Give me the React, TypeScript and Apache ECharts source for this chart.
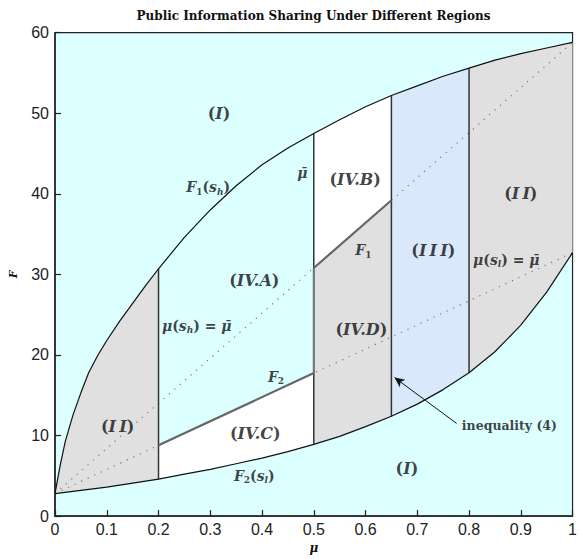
import React, { useEffect, useRef } from "react";
import * as echarts from "echarts";

// F1(s_h) upper boundary curve
const upperCurve: [number, number][] = [
  [0, 2.8], [0.01, 6.3], [0.02, 9.3], [0.035, 12.6], [0.05, 15.3], [0.065, 17.8],
  [0.083, 20], [0.1, 21.8], [0.125, 24.2], [0.15, 26.4], [0.175, 28.6], [0.2, 30.7],
  [0.25, 34.6], [0.3, 38.0], [0.35, 41.0], [0.4, 43.6], [0.45, 45.7], [0.5, 47.5],
  [0.55, 49.2], [0.6, 50.8], [0.65, 52.2], [0.7, 53.4], [0.75, 54.6], [0.8, 55.6],
  [0.85, 56.6], [0.9, 57.4], [0.95, 58.1], [1, 58.8],
];
// F2(s_l) lower boundary curve
const lowerCurve: [number, number][] = [
  [0, 2.8], [0.05, 3.2], [0.1, 3.6], [0.15, 4.1], [0.2, 4.6], [0.25, 5.2],
  [0.3, 5.8], [0.35, 6.5], [0.4, 7.2], [0.45, 8.0], [0.5, 8.9], [0.55, 9.9],
  [0.6, 11.1], [0.65, 12.4], [0.7, 13.9], [0.75, 15.7], [0.8, 17.8], [0.85, 20.4],
  [0.9, 23.7], [0.95, 27.8], [1, 32.7],
];
// dotted chords
const upperChord: [number, number][] = [[0, 2.8], [1, 58.8]];
const lowerChord: [number, number][] = [[0, 2.8], [1, 32.7]];
// F1 and F2 thick segments
const f1Segment: [number, number][] = [[0.5, 30.8], [0.65, 39.2]];
const f2Segment: [number, number][] = [[0.2, 8.8], [0.5, 17.75]];
// vertical boundaries
const boundaries = [0.2, 0.5, 0.65, 0.8];
// arrow for "inequality (4)"
const arrowFrom: [number, number] = [0.776, 11.5];
const arrowTo: [number, number] = [0.656, 17.2];

// label positions [mu, F]
const labelPos: [number, number][] = [
  [0.317, 50], [0.68, 5.9], [0.121, 11.1], [0.9, 40], [0.731, 33],
  [0.385, 29.3], [0.58, 41.8], [0.387, 10.2], [0.592, 23.2],
  [0.296, 40.8], [0.478, 42.6], [0.274, 23.6], [0.427, 17.3], [0.596, 33],
  [0.872, 31.8], [0.385, 5.0], [0.878, 11.2],
];
const labelText: string[] = [
  "{p|(}{r|I}{p|)}",
  "{p|(}{r|I}{p|)}",
  "{p|(}{r|I\u2009I}{p|)}",
  "{p|(}{r|I\u2009I}{p|)}",
  "{p|(}{r|I\u2009I\u2009I}{p|)}",
  "{p|(}{r|IV.A}{p|)}",
  "{p|(}{r|IV.B}{p|)}",
  "{p|(}{r|IV.C}{p|)}",
  "{p|(}{r|IV.D}{p|)}",
  "{m|F}{sub|1}{q|(}{m|s}{subi|h}{q|)}",
  "{m|\u03BC\u0304}",
  "{m|\u03BC}{q|(}{m|s}{subi|h}{q|) = }{m|\u03BC\u0304}",
  "{m|F}{sub|2}",
  "{m|F}{sub|1}",
  "{m|\u03BC}{q|(}{m|s}{subi|l}{q|) = }{m|\u03BC\u0304}",
  "{m|F}{sub|2}{q|(}{m|s}{subi|l}{q|)}",
  "{t|inequality (4)}",
];

const at = (curve: [number, number][], x: number) =>
  (curve.find((p) => Math.abs(p[0] - x) < 1e-9) as [number, number])[1];
const slice = (curve: [number, number][], a: number, b: number) =>
  curve.filter((p) => p[0] >= a - 1e-9 && p[0] <= b + 1e-9);

const CYAN = "#dcffff";
const GRAY = "#e0e0e0";
const BLUE = "#d9e9fb";
const WHITE = "#ffffff";

const regions: { pts: [number, number][]; fill: string }[] = [
  { pts: [...slice(upperCurve, 0, 0.2), ...slice(lowerCurve, 0, 0.2).reverse()], fill: GRAY },
  { pts: [...f2Segment, ...slice(lowerCurve, 0.2, 0.5).reverse()], fill: WHITE },
  { pts: [...f1Segment, ...slice(upperCurve, 0.5, 0.65).reverse()], fill: WHITE },
  { pts: [...slice(lowerCurve, 0.5, 0.65), ...f1Segment.slice().reverse()], fill: GRAY },
  { pts: [...slice(upperCurve, 0.65, 0.8), ...slice(lowerCurve, 0.65, 0.8).reverse()], fill: BLUE },
  { pts: [...slice(upperCurve, 0.8, 1), ...slice(lowerCurve, 0.8, 1).reverse()], fill: GRAY },
];

const mathFont = "DejaVu Serif";

export default function App() {
  const ref = useRef<HTMLDivElement>(null);
  useEffect(() => {
    if (!ref.current) return;
    const chart = echarts.init(ref.current, undefined, { renderer: "svg" });
    const baseText = { fontFamily: mathFont, fontWeight: "bold" as const, color: "#111" };
    const rich = {
      r: { ...baseText, fontStyle: "italic" as const, fontSize: 16, lineHeight: 20 },
      p: { ...baseText, fontStyle: "normal" as const, fontSize: 16, lineHeight: 20 },
      m: { ...baseText, fontStyle: "italic" as const, fontSize: 14, lineHeight: 18 },
      q: { ...baseText, fontStyle: "normal" as const, fontSize: 14, lineHeight: 18 },
      sub: { ...baseText, fontStyle: "normal" as const, fontSize: 9, lineHeight: 10, verticalAlign: "bottom" as const },
      subi: { ...baseText, fontStyle: "italic" as const, fontSize: 9, lineHeight: 10, verticalAlign: "bottom" as const },
      t: { ...baseText, fontStyle: "normal" as const, fontSize: 12.5, lineHeight: 16 },
    };
    const vertLines = boundaries.map((x) => ({
      type: "line",
      data: [[x, at(lowerCurve, x)], [x, at(upperCurve, x)]],
      symbol: "none",
      lineStyle: { color: "#333", width: 1.5 },
      z: 4,
      silent: true,
    }));
    chart.setOption({
      animation: false,
      grid: {
        left: 51.5, right: 2.5, top: 32.7, bottom: 35,
        show: true, backgroundColor: CYAN, borderColor: "#222", borderWidth: 1.2,
      },
      graphic: [
        {
          type: "text", x: 313.5, y: 16,
          style: {
            text: "Public Information Sharing Under Different Regions",
            fontFamily: "DejaVu Serif", fontWeight: "bold", fontSize: 12,
            fill: "#111", textAlign: "center", textVerticalAlign: "middle",
          },
        },
      ],
      xAxis: {
        type: "value", min: 0, max: 1, interval: 0.1,
        name: "\u03BC", nameLocation: "middle", nameGap: 23,
        nameTextStyle: { fontFamily: mathFont, fontStyle: "italic", fontWeight: "bold", fontSize: 12, color: "#111" },
        axisLine: { lineStyle: { color: "#222", width: 1.5 } },
        axisTick: { inside: true, length: 6, lineStyle: { color: "#222", width: 1.2 } },
        axisLabel: { fontFamily: "Liberation Sans", fontSize: 16, color: "#222", margin: 5 },
        splitLine: { show: false },
      },
      yAxis: {
        type: "value", min: 0, max: 60, interval: 10,
        name: "F", nameLocation: "middle", nameGap: 36, nameRotate: 90,
        nameTextStyle: { fontFamily: mathFont, fontStyle: "italic", fontWeight: "bold", fontSize: 11, color: "#111" },
        axisLine: { lineStyle: { color: "#222", width: 1.5 } },
        axisTick: { inside: true, length: 6, lineStyle: { color: "#222", width: 1.2 } },
        axisLabel: { fontFamily: "Liberation Sans", fontSize: 16, color: "#222", margin: 6 },
        splitLine: { show: false },
      },
      series: [
        {
          type: "custom",
          silent: true,
          z: 1,
          data: regions.map((r, i) => [r.pts[0][0], r.pts[0][1], i]),
          renderItem: (params: any, api: any) => {
            const r = regions[params.dataIndex];
            return {
              type: "polygon",
              shape: { points: r.pts.map((p) => api.coord(p)) },
              style: { fill: r.fill, stroke: "none" },
            };
          },
        },
        {
          type: "line", data: upperChord, symbol: "none", z: 3, silent: true,
          lineStyle: { color: "#777", width: 1.2, type: [1.2, 6] },
        },
        {
          type: "line", data: lowerChord, symbol: "none", z: 3, silent: true,
          lineStyle: { color: "#777", width: 1.2, type: [1.2, 6] },
        },
        {
          type: "line", data: upperCurve, symbol: "none", z: 5, silent: true,
          lineStyle: { color: "#111", width: 1.2 },
        },
        {
          type: "line", data: lowerCurve, symbol: "none", z: 5, silent: true,
          lineStyle: { color: "#111", width: 1.2 },
          markLine: {
            silent: true, symbol: ["none", "arrow"], symbolSize: [7, 10],
            lineStyle: { color: "#111", width: 1, type: "solid" },
            label: { show: false },
            data: [[{ coord: arrowFrom }, { coord: arrowTo }]],
          },
        },
        ...vertLines,
        {
          type: "line",
          data: [f2Segment[1], f1Segment[0]],
          symbol: "none", z: 6, silent: true,
          lineStyle: { color: "#777", width: 2 },
        },
        {
          type: "line", data: f1Segment, symbol: "none", z: 6, silent: true,
          lineStyle: { color: "#666", width: 2.2 },
        },
        {
          type: "line", data: f2Segment, symbol: "none", z: 6, silent: true,
          lineStyle: { color: "#666", width: 2.2 },
        },
        {
          type: "scatter", z: 10, silent: true,
          symbolSize: 1,
          itemStyle: { color: "rgba(0,0,0,0)" },
          data: labelPos.map((p, i) => ({
            value: p,
            label: { show: true, position: "inside", formatter: labelText[i], rich },
          })),
        },
      ],
    });
    return () => chart.dispose();
  }, []);
  return (
    <div
      ref={ref}
      style={{ position: "absolute", left: 0, top: 0, width: 580, height: 559 }}
    />
  );
}
